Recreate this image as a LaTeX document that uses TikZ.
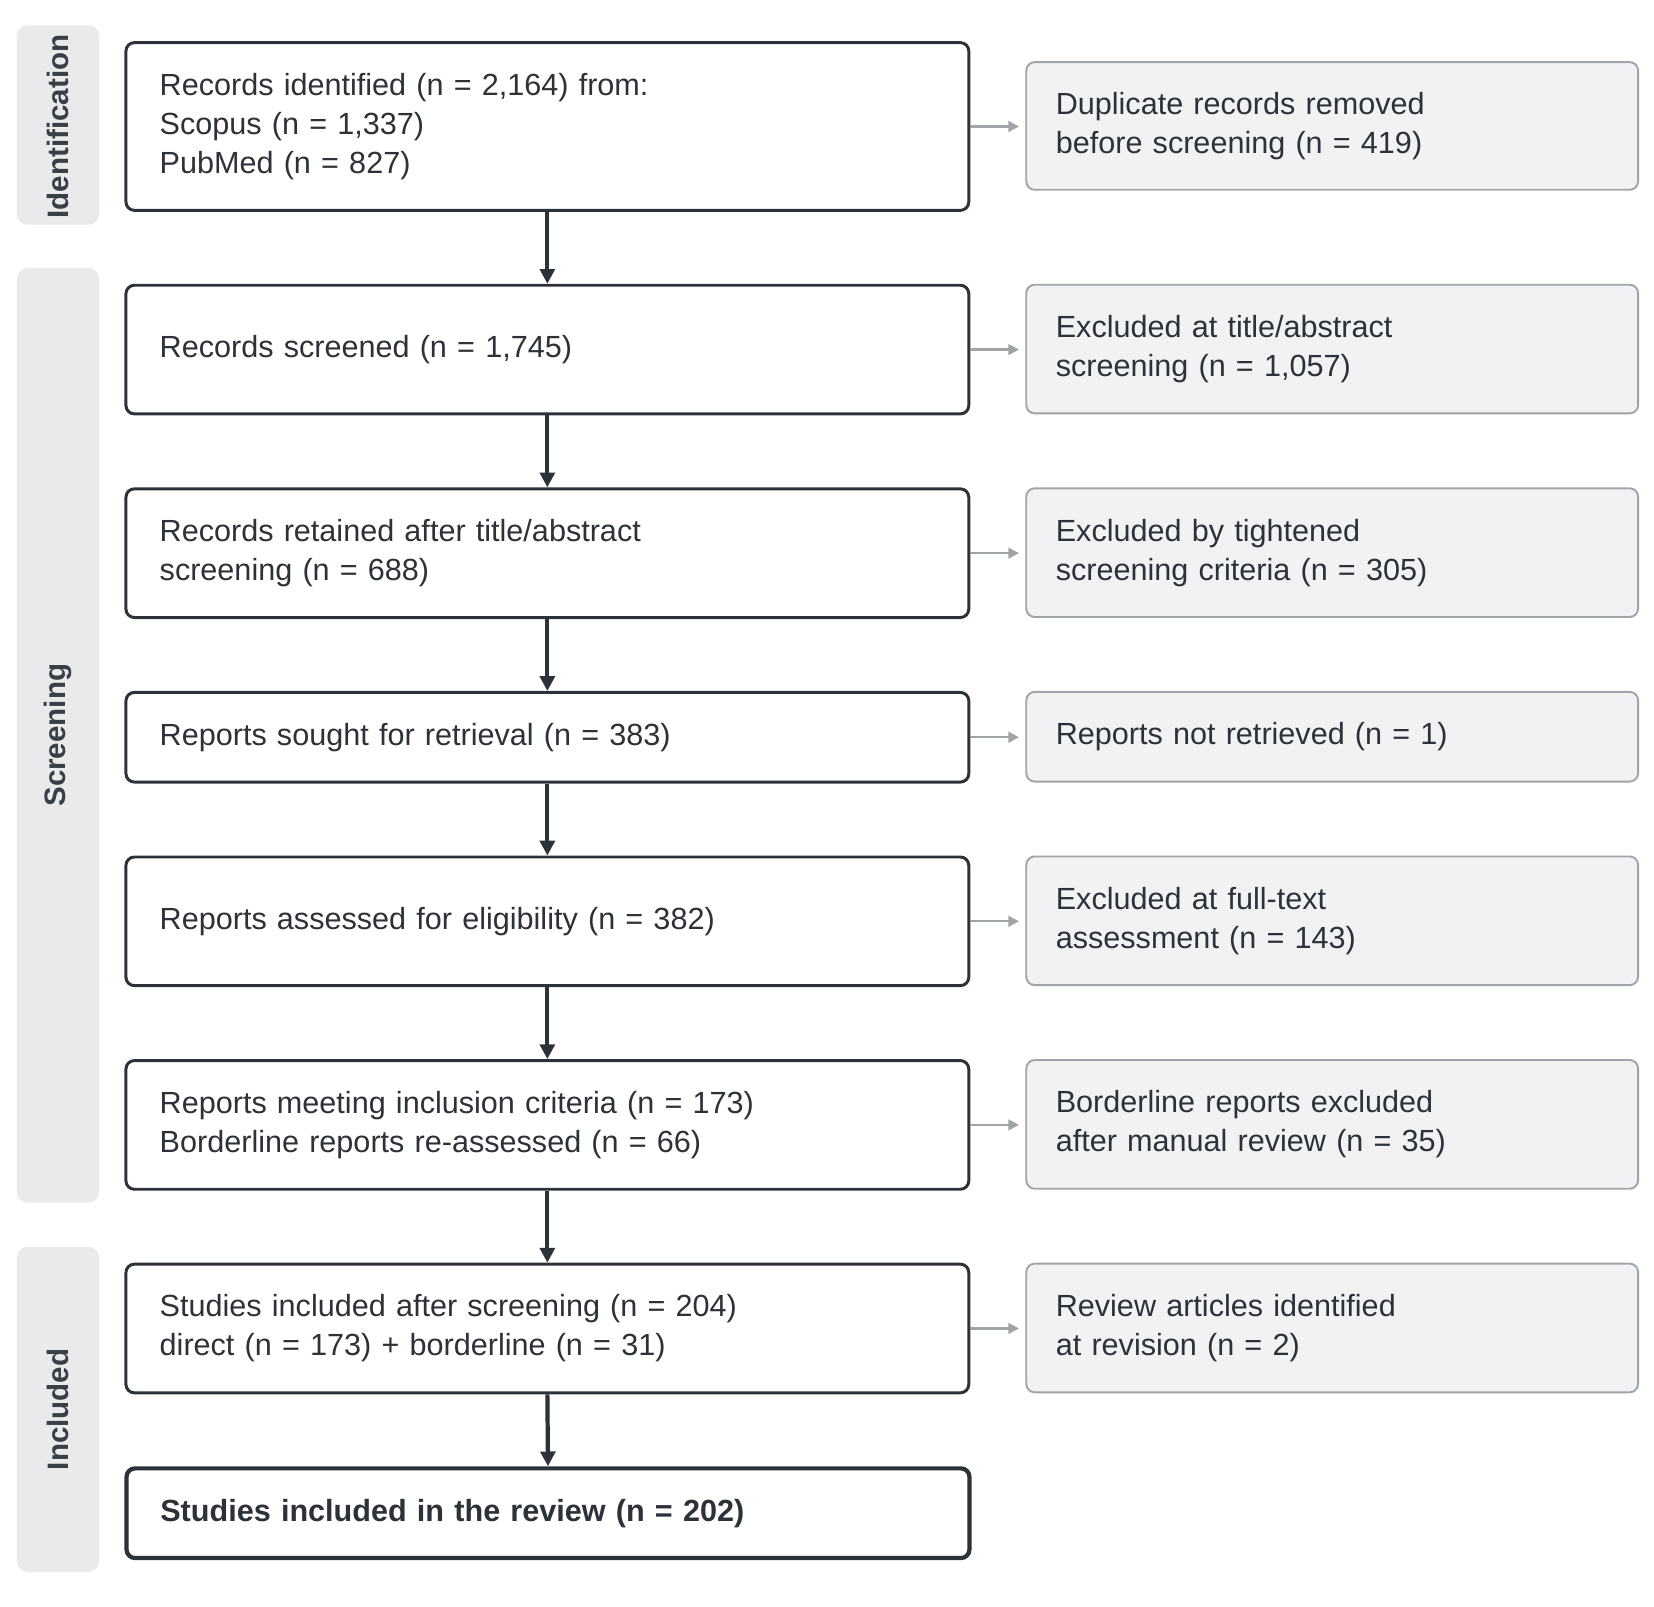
\documentclass[tikz,border=0pt]{standalone}
\usepackage{fontspec}
\setmainfont{Liberation Sans}
\usetikzlibrary{arrows.meta}
\definecolor{dk}{HTML}{2D3238}
\definecolor{gf}{HTML}{F1F2F4}
\definecolor{gb}{HTML}{A0A4A8}
\definecolor{band}{HTML}{E8EAEC}
\definecolor{bt}{HTML}{3A3F45}
\begin{document}
\begin{tikzpicture}[x=0.5pt,y=-0.5pt,
 mainb/.style={draw=dk,line width=1.4pt,rounded corners=4pt,fill=white,minimum width=399.5pt,text width=367.5pt,inner xsep=16pt,align=left,anchor=north west,font=\fontsize{14.5}{18.5}\selectfont,text=dk},
 sideb/.style={draw=gb,line width=0.9pt,rounded corners=4pt,fill=gf,minimum width=290pt,text width=262pt,inner xsep=14pt,align=left,anchor=north west,font=\fontsize{14.5}{18.5}\selectfont,text=dk},
 bandb/.style={fill=band,rounded corners=5pt},
 blab/.style={rotate=90,font=\bfseries\fontsize{14}{16}\selectfont,text=bt},
 down/.style={-{Triangle[length=7pt,width=7pt]},draw=dk,line width=2pt},
 side/.style={-{Triangle[length=5pt,width=5pt]},draw=gb,line width=1.1pt}]
\useasboundingbox (0,0) rectangle (1568,1523);
\fill[white] (0,0) rectangle (1568,1523);
\fill[bandb] (16,24) rectangle (94,213);
\fill[bandb] (16,254) rectangle (94,1140);
\fill[bandb] (16,1182) rectangle (94,1490);
\node[blab] (l1) at (55,120) {Identification};
\node[blab] (l2) at (55,697) {Screening};
\node[blab] (l3) at (55,1336) {Included};
\node[mainb,minimum height=79.5pt] (m1) at (118,39) {Records identified (n = 2,164) from:\\Scopus (n = 1,337)\\PubMed (n = 827)};
\node[mainb,minimum height=61pt] (m2) at (118,269) {Records screened (n = 1,745)};
\node[mainb,minimum height=61pt] (m3) at (118,462) {Records retained after title/abstract\\screening (n = 688)};
\node[mainb,minimum height=42.5pt] (m4) at (118,655) {Reports sought for retrieval (n = 383)};
\node[mainb,minimum height=61pt] (m5) at (118,811) {Reports assessed for eligibility (n = 382)};
\node[mainb,minimum height=61pt] (m6) at (118,1004) {Reports meeting inclusion criteria (n = 173)\\Borderline reports re-assessed (n = 66)};
\node[mainb,minimum height=61pt] (m7) at (118,1197) {Studies included after screening (n = 204)\\direct (n = 173) + borderline (n = 31)};
\node[mainb,minimum height=42.5pt,line width=2pt,font=\bfseries\fontsize{14.5}{18.5}\selectfont] (m8) at (118,1390) {Studies included in the review (n = 202)};
\node[sideb,minimum height=60.5pt] (s1) at (972,58) {Duplicate records removed\\before screening (n = 419)};
\node[sideb,minimum height=61pt] (s2) at (972,269) {Excluded at title/abstract\\screening (n = 1,057)};
\node[sideb,minimum height=61pt] (s3) at (972,462) {Excluded by tightened\\screening criteria (n = 305)};
\node[sideb,minimum height=42.5pt] (s4) at (972,655) {Reports not retrieved (n = 1)};
\node[sideb,minimum height=61pt] (s5) at (972,811) {Excluded at full-text\\assessment (n = 143)};
\node[sideb,minimum height=61pt] (s6) at (972,1004) {Borderline reports excluded\\after manual review (n = 35)};
\node[sideb,minimum height=61pt] (s7) at (972,1197) {Review articles identified\\at revision (n = 2)};
\foreach \a/\b in {m1/m2,m2/m3,m3/m4,m4/m5,m5/m6,m6/m7,m7/m8} \draw[down] (\a.south) -- (\b.north);
\foreach \i in {1,...,7} \draw[side] (m\i.east) -- ([xshift=-3pt]s\i.west |- m\i.east);
\end{tikzpicture}
\end{document}
